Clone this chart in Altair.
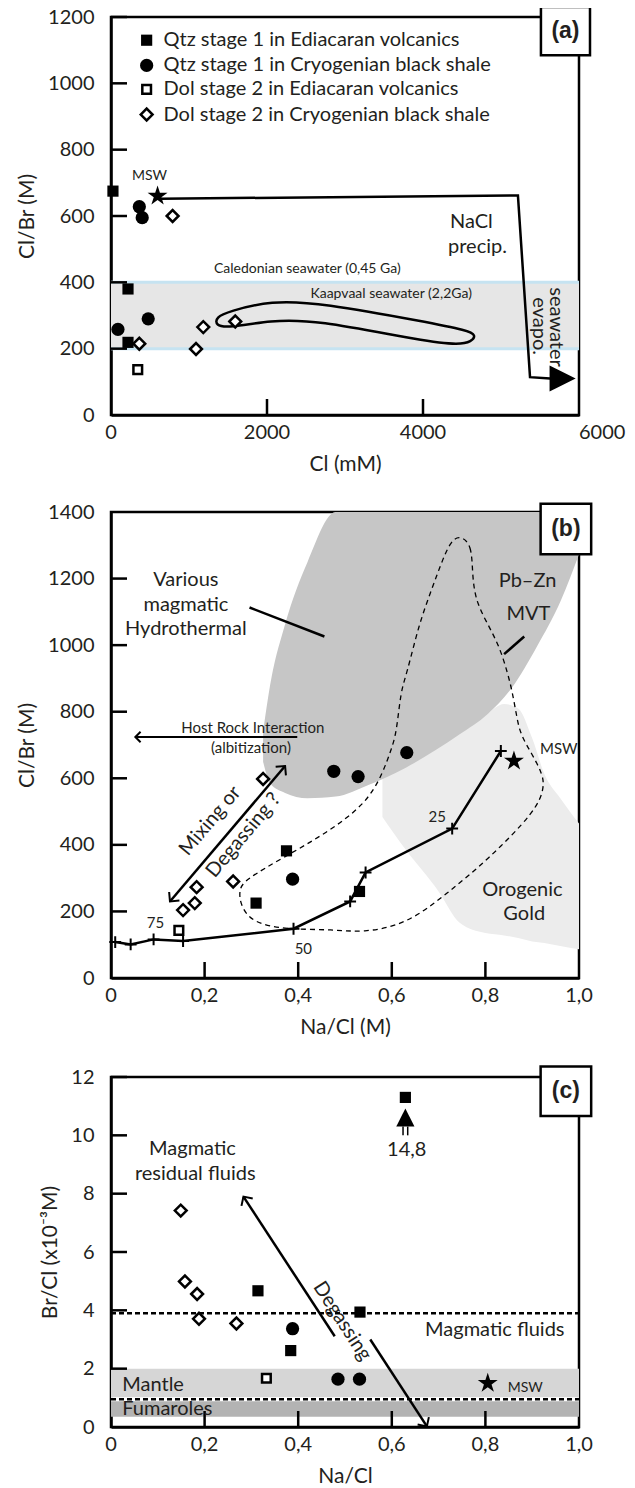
import altair as alt
import pandas as pd

FONT = "Lato"
BOLD = "Liberation Sans"
INK = "#231f20"

# ---------------- Panel (a): Cl/Br vs Cl ----------------
a_qtz_edi_x = [25, 218, 218]
a_qtz_edi_y = [675, 380, 219]
a_qtz_cry_x = [363, 400, 477, 89]
a_qtz_cry_y = [628, 595, 290, 258]
a_dol_edi_x = [343]
a_dol_edi_y = [137]
a_dol_cry_x = [790, 363, 1090, 1183, 1593]
a_dol_cry_y = [600, 215, 199, 265, 282]
a_msw_x = [597]
a_msw_y = [660]

a_legend_labels = ["Qtz stage 1 in Ediacaran volcanics",
                   "Qtz stage 1 in Cryogenian black shale",
                   "Dol stage 2 in Ediacaran volcanics",
                   "Dol stage 2 in Cryogenian black shale"]
a_legend_sym_x = [457, 457, 457, 457]
a_legend_txt_x = [673, 673, 673, 673]
a_legend_y = [1130, 1054, 982, 906]

a_xticks = [0, 2000, 4000]
a_xtick_labels = ["0", "2000", "4000"]
a_xlast, a_xlast_label = [6000], ["6000"]
a_yticks = [0, 200, 400, 600, 800, 1000, 1200]

a_band_lo, a_band_hi = 200, 400
a_kaap_x = [1349, 1506, 2050, 2699, 4048, 4568, 4682, 4620, 4465, 4048, 2596, 2050, 1506, 1339]
a_kaap_y = [295, 312, 345, 338, 280, 255, 241, 221, 212, 221, 288, 285, 263, 270]
a_nacl_x = [632, 5217, 5372, 5630]
a_nacl_y = [652, 662, 114, 110]
a_tri_x, a_tri_y = [5790], [110]

a_texts = ["MSW", "Caledonian seawater (0,45 Ga)", "Kaapvaal seawater (2,2Ga)"]
a_texts_x = [493, 2517, 3592]
a_texts_y = [722, 439, 365]
a_big_texts = ["NaCl", "precip."]
a_big_x = [4620, 4698]
a_big_y = [582, 506]
a_rot_texts = ["seawater", "evapo."]
a_rot_x = [5710, 5490]
a_rot_y = [265, 268]
a_box = [5512, 6141, 1085, 1230]

# ---------------- Panel (b): Cl/Br vs Na/Cl ----------------
b_qtz_edi_x = [0.375, 0.31, 0.531]
b_qtz_edi_y = [382, 225, 260]
b_qtz_cry_x = [0.476, 0.528, 0.632, 0.388]
b_qtz_cry_y = [621, 605, 677, 297]
b_dol_edi_x = [0.145]
b_dol_edi_y = [143]
b_dol_cry_x = [0.325, 0.261, 0.183, 0.179, 0.154]
b_dol_cry_y = [598, 290, 273, 225, 204]
b_msw_x = [0.861]
b_msw_y = [652]

nacl_ticks = [0, 0.2, 0.4, 0.6, 0.8, 1.0]
nacl_tick_labels = ["0", "0,2", "0,4", "0,6", "0,8", "1,0"]
b_yticks = [0, 200, 400, 600, 800, 1000, 1200, 1400]

b_mix_x = [0.009, 0.042, 0.091, 0.154, 0.39, 0.511, 0.544, 0.729, 0.833]
b_mix_y = [108, 101, 116, 111, 148, 230, 317, 449, 682]

b_hyd_x = [0.325, 0.34, 0.372, 0.42, 0.48, 0.55, 0.63, 0.745, 0.805, 0.857, 0.909, 0.961, 1.0]
b_hyd_hi = [740, 880, 1063, 1250, 1400, 1400, 1400, 1400, 1400, 1400, 1400, 1400, 1400]
b_hyd_lo = [650, 585, 556, 540, 545, 580, 632, 732, 793, 873, 993, 1133, 1273]

b_oro_x = [0.58, 0.63, 0.70, 0.745, 0.80, 0.84, 0.87, 0.90, 0.926, 0.96, 1.0]
b_oro_hi = [600, 640, 700, 740, 790, 823, 810, 720, 613, 540, 464]
b_oro_lo = [484, 385, 260, 166, 135, 128, 120, 110, 105, 96, 86]

b_mvt_x = [0.745, 0.771, 0.772, 0.779, 0.805, 0.831, 0.848, 0.857, 0.866, 0.874, 0.9, 0.922,
           0.926, 0.909, 0.805, 0.719, 0.632, 0.537, 0.476, 0.372, 0.303, 0.277, 0.273, 0.286,
           0.372, 0.459, 0.545, 0.58, 0.597, 0.61, 0.619, 0.632, 0.658, 0.684, 0.71, 0.727]
b_mvt_y = [1330, 1303, 1213, 1133, 1063, 993, 913, 863, 793, 733, 672, 613,
           573, 503, 355, 255, 161, 136, 146, 146, 166, 215, 265, 295,
           365, 434, 523, 613, 680, 733, 863, 913, 1063, 1163, 1263, 1313]

b_ptr1_x = [0.296, 0.456]
b_ptr1_y = [1113, 1026]
b_ptr2_x = [0.883, 0.840]
b_ptr2_y = [1026, 973]
b_host_x = [0.398, 0.052]
b_host_y = [724, 724]
b_mixarrow_x = [0.126, 0.372]
b_mixarrow_y = [230, 637]

b_big_texts = ["Various", "magmatic", "Hydrothermal", "Pb\u2013Zn", "MVT", "Orogenic", "Gold"]
b_big_x = [0.16, 0.16, 0.16, 0.89, 0.892, 0.879, 0.883]
b_big_y = [1195, 1121, 1048, 1193, 1093, 263, 191]
b_small_texts = ["Host Rock Interaction", "(albitization)", "25", "50", "75", "MSW"]
b_small_x = [0.303, 0.299, 0.697, 0.411, 0.095, 0.957]
b_small_y = [751, 692, 484, 88, 164, 687]
b_rot_texts = ["Mixing or", "Degassing ?"]
b_rot_x = [0.212, 0.283]
b_rot_y = [472, 429]
b_box = [0.918, 1.026, 1273, 1425]

# ---------------- Panel (c): Br/Cl vs Na/Cl ----------------
c_qtz_edi_x = [0.314, 0.384, 0.532, 0.629]
c_qtz_edi_y = [4.67, 2.62, 3.94, 11.3]
c_qtz_cry_x = [0.388, 0.485, 0.531]
c_qtz_cry_y = [3.37, 1.64, 1.64]
c_dol_edi_x = [0.332]
c_dol_edi_y = [1.67]
c_dol_cry_x = [0.149, 0.158, 0.184, 0.188, 0.268]
c_dol_cry_y = [7.42, 4.99, 4.56, 3.71, 3.55]
c_msw_x = [0.805]
c_msw_y = [1.5]
c_yticks = [0, 2, 4, 6, 8, 10, 12]

c_mantle = [1.0, 2.0]
c_fum = [0.35, 0.95]
c_magmatic_level = 3.9
c_mantle_level = 0.95

c_seg1_x = [0.283, 0.478]
c_seg1_y = [7.9, 3.11]
c_seg2_x = [0.554, 0.675]
c_seg2_y = [3.0, 0.02]
c_up_x = [0.629]
c_up_y = [10.61]
c_stem_x = [0.624, 0.634]
c_stem_y = [10.0, 10.3]

c_big_texts = ["Magmatic", "residual fluids", "Magmatic fluids", "14,8"]
c_big_x = [0.174, 0.18, 0.82, 0.632]
c_big_y = [9.52, 8.68, 3.32, 9.5]
c_left_texts = ["Mantle", "Fumaroles"]
c_left_x = [0.024, 0.024]
c_left_y = [1.44, 0.61]
c_small_texts = ["MSW"]
c_small_x = [0.885]
c_small_y = [1.33]
c_rot_texts = ["Degassing"]
c_rot_x = [0.494]
c_rot_y = [3.63]
c_box = [0.918, 1.026, 10.66, 12.36]

W = 468
HA, HB, HC = 398, 466, 350
TICK = 16
CHEV = "M-1,-1L0,0L-1,1"
PLUS = "M-1,0L1,0M0,-1L0,1"
STAR = ("M0,-1L0.2245,-0.309L0.951,-0.309L0.363,0.118L0.588,0.809L0,0.382"
        "L-0.588,0.809L-0.363,0.118L-0.951,-0.309L-0.2245,-0.309Z")
TRI_RIGHT = "M1,0L-1,-1L-1,1Z"
TRI_UP = "M0,-1L1,1L-1,1Z"


def df(**cols):
    return pd.DataFrame(cols)


class Panel:
    def __init__(self, xdom, ydom, xtitle, ytitle, yvals, h):
        self.h = h
        self.xdom, self.ydom = xdom, ydom
        self.ax = alt.Axis(title=xtitle, labels=False, values=[xdom[0]])
        self.ay = alt.Axis(title=ytitle, values=yvals, format="d")
        self.sx = alt.Scale(domain=xdom, nice=False, zero=False)
        self.sy = alt.Scale(domain=ydom, nice=False, zero=False)
        self.layers = []

    def X(self):
        return alt.X("x:Q", scale=self.sx, axis=self.ax)

    def Y(self):
        return alt.Y("y:Q", scale=self.sy, axis=self.ay)

    def add(self, c):
        self.layers.append(c)

    def pts(self, xs, ys, **mk):
        self.add(alt.Chart(df(x=xs, y=ys)).mark_point(opacity=1, **mk).encode(x=self.X(), y=self.Y()))

    def markers(self, qe, qc, de, dc, msw=None):
        self.pts(*qe, shape="square", filled=True, color="black", size=125)
        self.pts(*qc, shape="circle", filled=True, color="black", size=175)
        self.pts(*de, shape="square", filled=True, fill="white", stroke="black", strokeWidth=2.5, size=75)
        self.pts(*dc, shape="diamond", filled=True, fill="white", stroke="black", strokeWidth=2.5, size=140)
        if msw:
            self.pts(*msw, shape=STAR, filled=True, color="black", size=440)

    def line(self, xs, ys, width=2.5, dash=None, interp="linear"):
        mk = dict(color="black", strokeWidth=width, interpolate=interp)
        if dash:
            mk["strokeDash"] = dash
        self.add(alt.Chart(df(x=xs, y=ys, o=list(range(len(xs))))).mark_line(**mk)
                 .encode(x=self.X(), y=self.Y(), order="o:Q"))

    def rect(self, x0, x1, y0, y1, **mk):
        self.add(alt.Chart(df(x=[x0], x2=[x1], y=[y0], y2=[y1])).mark_rect(**mk)
                 .encode(x=self.X(), x2=alt.X2("x2"), y=self.Y(), y2=alt.Y2("y2")))

    def area(self, xs, hi, lo, color):
        self.add(alt.Chart(df(x=xs, y=hi, y2=lo)).mark_area(color=color, opacity=1, interpolate="monotone")
                 .encode(x=self.X(), y=self.Y(), y2=alt.Y2("y2")))

    def text(self, xs, ys, texts, size=20, angle=0, align="center", font=FONT, weight="normal"):
        mk = dict(fontSize=size, font=font, fontWeight=weight, align=align, baseline="middle", color=INK)
        if angle:
            mk["angle"] = angle
        self.add(alt.Chart(df(x=xs, y=ys, t=texts)).mark_text(**mk)
                 .encode(x=self.X(), y=self.Y(), text="t:N"))

    def xlabels(self, xs, labels, align="center"):
        self.add(alt.Chart(df(x=xs, t=labels)).mark_text(fontSize=20, font=FONT, align=align,
                                                          baseline="top", color=INK)
                 .encode(x=self.X(), y=alt.value(self.h + 8), text="t:N"))

    def chevron(self, x, y, angle, size=150):
        self.add(alt.Chart(df(x=[x], y=[y])).mark_point(shape=CHEV, filled=False, color="black",
                                                          strokeWidth=2, size=size, angle=angle, opacity=1)
                 .encode(x=self.X(), y=self.Y()))

    def ticks(self, xt, yt):
        # inward tick marks as short line segments through the panel's scales
        tx = TICK / W * (self.xdom[1] - self.xdom[0])
        ty = TICK / self.h * (self.ydom[1] - self.ydom[0])
        x0, y0 = self.xdom[0], self.ydom[0]
        xs, ys, g, o = [], [], [], []
        for i, v in enumerate(xt):
            xs += [v, v]
            ys += [y0, y0 + ty]
            g += [i, i]
            o += [0, 1]
        for j, v in enumerate(yt):
            xs += [x0, x0 + tx]
            ys += [v, v]
            g += [100 + j, 100 + j]
            o += [0, 1]
        self.add(alt.Chart(df(x=xs, y=ys, g=g, o=o)).mark_line(color="black", strokeWidth=2.5)
                 .encode(x=self.X(), y=self.Y(), detail="g:N", order="o:Q"))

    def boxlabel(self, box, label):
        self.rect(box[0], box[1], box[2], box[3], fill="white", stroke="black", strokeWidth=2.5)
        self.text([(box[0] + box[1]) / 2], [(box[2] + box[3]) / 2], [label], size=23, font=BOLD, weight="bold")

    def chart(self):
        return alt.layer(*self.layers).properties(width=W, height=self.h)


# ----- (a) -----
pa = Panel([0, 6000], [0, 1200], "Cl (mM)", "Cl/Br (M)", a_yticks, HA)
pa.rect(0, 6000, a_band_lo, a_band_hi, fill="#e6e6e6")
pa.add(alt.Chart(df(y=[a_band_lo, a_band_hi])).mark_rule(color="#c6e3f1", strokeWidth=3)
       .encode(y=pa.Y(), x=alt.value(0), x2=alt.value(W)))
pa.line(a_kaap_x, a_kaap_y, interp="basis-closed")
pa.line(a_nacl_x, a_nacl_y)
pa.pts(a_tri_x, a_tri_y, shape=TRI_RIGHT, filled=True, color="black", size=680)
pa.ticks([2000, 4000], a_yticks[1:])
pa.markers((a_qtz_edi_x, a_qtz_edi_y), (a_qtz_cry_x, a_qtz_cry_y), (a_dol_edi_x, a_dol_edi_y),
           (a_dol_cry_x, a_dol_cry_y), (a_msw_x, a_msw_y))
pa.markers(([a_legend_sym_x[0]], [a_legend_y[0]]), ([a_legend_sym_x[1]], [a_legend_y[1]]),
           ([a_legend_sym_x[2]], [a_legend_y[2]]), ([a_legend_sym_x[3]], [a_legend_y[3]]))
pa.text(a_legend_txt_x, a_legend_y, a_legend_labels, size=20, align="left")
pa.text(a_texts_x, a_texts_y, a_texts, size=14)
pa.text(a_big_x, a_big_y, a_big_texts, size=20)
pa.text(a_rot_x, a_rot_y, a_rot_texts, size=20, angle=90)
pa.boxlabel(a_box, "(a)")
pa.xlabels(a_xticks, a_xtick_labels)
pa.xlabels(a_xlast, a_xlast_label, align="left")

# ----- (b) -----
pb = Panel([0, 1.0], [0, 1400], "Na/Cl (M)", "Cl/Br (M)", b_yticks, HB)
pb.area(b_oro_x, b_oro_hi, b_oro_lo, "#ececec")
pb.area(b_hyd_x, b_hyd_hi, b_hyd_lo, "#c6c6c6")
pb.line(b_mvt_x, b_mvt_y, width=1.3, dash=[5, 4], interp="basis-closed")
pb.line(b_ptr1_x, b_ptr1_y, width=2.5)
pb.line(b_ptr2_x, b_ptr2_y, width=2.5)
pb.line(b_host_x, b_host_y, width=2)
pb.chevron(b_host_x[1], b_host_y[1], 180, size=110)
pb.line(b_mixarrow_x, b_mixarrow_y, width=2.5)
pb.chevron(b_mixarrow_x[0], b_mixarrow_y[0], 130, size=180)
pb.chevron(b_mixarrow_x[1], b_mixarrow_y[1], 310, size=180)
pb.line(b_mix_x, b_mix_y, width=2.5)
pb.pts(b_mix_x, b_mix_y, shape=PLUS, filled=False, color="black", strokeWidth=2, size=140)
pb.ticks(nacl_ticks[1:-1], b_yticks[1:-1])
pb.markers((b_qtz_edi_x, b_qtz_edi_y), (b_qtz_cry_x, b_qtz_cry_y), (b_dol_edi_x, b_dol_edi_y),
           (b_dol_cry_x, b_dol_cry_y), (b_msw_x, b_msw_y))
pb.text(b_big_x, b_big_y, b_big_texts, size=20)
pb.text(b_small_x, b_small_y, b_small_texts, size=15)
pb.text(b_rot_x, b_rot_y, b_rot_texts, size=20, angle=310)
pb.boxlabel(b_box, "(b)")
pb.xlabels(nacl_ticks, nacl_tick_labels)

# ----- (c) -----
pc = Panel([0, 1.0], [0, 12], "Na/Cl", "Br/Cl (x10\u207b\u00b3M)", c_yticks, HC)
pc.rect(0, 1.0, c_mantle[0], c_mantle[1], fill="#d6d6d6")
pc.rect(0, 1.0, c_fum[0], c_fum[1], fill="#b3b3b3")
pc.add(alt.Chart(df(y=[c_mantle_level])).mark_rule(color="white", strokeWidth=4)
       .encode(y=pc.Y(), x=alt.value(0), x2=alt.value(W)))
pc.add(alt.Chart(df(y=[c_magmatic_level, c_mantle_level])).mark_rule(color="black", strokeWidth=2.5,
                                                                      strokeDash=[5, 3])
       .encode(y=pc.Y(), x=alt.value(0), x2=alt.value(W)))
pc.line(c_seg1_x, c_seg1_y, width=2.5)
pc.line(c_seg2_x, c_seg2_y, width=2.5)
pc.chevron(c_seg1_x[0], c_seg1_y[0], 237, size=180)
pc.chevron(c_seg2_x[1], c_seg2_y[1], 57, size=180)
pc.pts(c_up_x, c_up_y, shape=TRI_UP, filled=True, color="black", size=330)
pc.add(alt.Chart(df(x=c_stem_x, y=[c_stem_y[0]] * 2, y2=[c_stem_y[1]] * 2)).mark_rule(color="black", strokeWidth=1.5)
       .encode(x=pc.X(), y=pc.Y(), y2=alt.Y2("y2")))
pc.ticks(nacl_ticks[1:-1], c_yticks[1:])
pc.markers((c_qtz_edi_x, c_qtz_edi_y), (c_qtz_cry_x, c_qtz_cry_y), (c_dol_edi_x, c_dol_edi_y),
           (c_dol_cry_x, c_dol_cry_y), (c_msw_x, c_msw_y))
pc.text(c_big_x, c_big_y, c_big_texts, size=20)
pc.text(c_left_x, c_left_y, c_left_texts, size=20, align="left")
pc.text(c_small_x, c_small_y, c_small_texts, size=14)
pc.text(c_rot_x, c_rot_y, c_rot_texts, size=20, angle=57)
pc.boxlabel(c_box, "(c)")
pc.xlabels(nacl_ticks, nacl_tick_labels)

chart = alt.vconcat(pa.chart(), pb.chart(), pc.chart(), spacing=24).properties(
    padding={"left": 7, "top": -4, "right": 0, "bottom": 0}
).configure_view(
    stroke="black", strokeWidth=2.5
).configure_axis(
    domainColor="black", domainWidth=2.5, ticks=False, grid=False,
    labelFont=FONT, labelFontSize=20, labelColor=INK,
    titleFont=FONT, titleFontSize=21, titleFontWeight="normal", titleColor=INK,
).configure_axisX(titlePadding=38).configure_axisY(labelPadding=17, titlePadding=10)

chart.save("out.html", embed_options={"renderer": "svg", "actions": False})
